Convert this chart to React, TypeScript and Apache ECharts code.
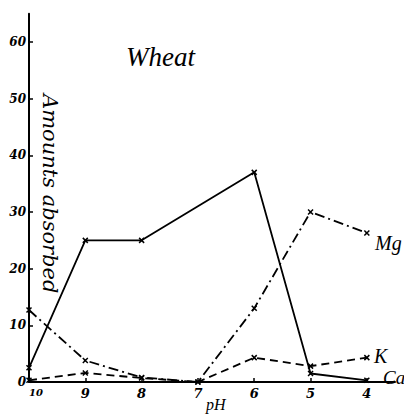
import React, { useEffect, useRef } from "react";
import * as echarts from "echarts";

const pHValues = [10, 9, 8, 7, 6, 5, 4];
const caValues: (number | null)[] = [2.5, 25, 25, null, 37, 1.5, 0.3];
const mgValues = [12.7, 3.8, 0.8, 0, 13, 30, 26.3];
const kValues = [0.3, 1.6, 0.7, 0, 4.3, 2.8, 4.3];
const xTicks = [10, 9, 8, 7, 6, 5, 4];
const yTicks = [0, 10, 20, 30, 40, 50, 60];

const FONT = "DejaVu Serif";
const HAND = "Liberation Serif";
const cross = "path://M0,0L10,10M10,0L0,10";

function pairs(vals: (number | null)[]) {
  return pHValues.map((p, i) => [p, vals[i]]);
}

function withEndLabel(vals: (number | null)[], text: string, offset: number[], size: number) {
  const d: any[] = pairs(vals);
  const last = d.length - 1;
  d[last] = {
    value: d[last],
    label: {
      show: true,
      position: "right",
      formatter: text,
      offset,
      fontFamily: HAND,
      fontStyle: "italic",
      fontSize: size,
      color: "#000",
    },
  };
  return d;
}

export default function App() {
  const ref = useRef<HTMLDivElement>(null);
  useEffect(() => {
    const chart = echarts.init(ref.current!, null, { renderer: "svg" });
    const lineBase = {
      type: "line",
      symbol: cross,
      symbolSize: 5,
      connectNulls: true,
      itemStyle: { color: "#000", borderColor: "#000", borderWidth: 1.5 },
    };
    chart.setOption({
      animation: false,
      backgroundColor: "#fff",
      grid: { left: 29, right: 9, top: 13.7, bottom: 32, containLabel: false },
      title: {
        text: "Wheat",
        left: 121,
        top: 38,
        textStyle: { fontFamily: HAND, fontStyle: "italic", fontWeight: "normal", fontSize: 27, color: "#000" },
      },
      xAxis: {
        type: "value",
        min: 3.5,
        max: 10,
        inverse: true,
        axisLine: { lineStyle: { color: "#000", width: 2 } },
        axisTick: { show: true, inside: true, length: 4, customValues: xTicks, lineStyle: { color: "#000", width: 1.5 } },
        axisLabel: {
          customValues: xTicks,
          color: "#000",
          fontFamily: FONT,
          fontStyle: "italic",
          fontWeight: "bold",
          fontSize: 13,
          margin: 5,
          formatter: (v: number) => (v === 10 ? "{s|10}" : String(v)),
          rich: {
            s: { fontSize: 10, fontFamily: FONT, fontStyle: "italic", fontWeight: "bold", color: "#000", padding: [0, 0, 0, 14] },
          },
        },
        splitLine: { show: false },
      },
      yAxis: {
        type: "value",
        min: 0,
        max: 65,
        axisLine: { show: true, lineStyle: { color: "#000", width: 2 } },
        axisTick: { show: true, inside: true, length: 4, customValues: yTicks, lineStyle: { color: "#000", width: 1.5 } },
        axisLabel: {
          customValues: yTicks,
          color: "#000",
          fontFamily: FONT,
          fontStyle: "italic",
          fontWeight: "bold",
          fontSize: 12,
          margin: 3,
        },
        splitLine: { show: false },
      },
      graphic: [
        {
          type: "text",
          x: 39,
          y: 94,
          rotation: -Math.PI / 2,
          style: {
            text: "Amounts absorbed",
            fontFamily: FONT,
            fontStyle: "italic",
            fontSize: 21,
            fill: "#000",
            textVerticalAlign: "bottom",
          },
        },
        {
          type: "text",
          x: 206,
          y: 396,
          style: { text: "pH", fontFamily: HAND, fontStyle: "italic", fontSize: 16, fill: "#000" },
        },
      ],
      series: [
        {
          ...lineBase,
          name: "Ca",
          data: withEndLabel(caValues, "Ca", [8, -3], 19),
          lineStyle: { color: "#000", width: 1.8, type: "solid" },
        },
        {
          ...lineBase,
          name: "Mg",
          data: withEndLabel(mgValues, "Mg", [0, 10], 20),
          lineStyle: { color: "#000", width: 1.8, type: [10, 4, 2, 4] },
        },
        {
          ...lineBase,
          name: "K",
          data: withEndLabel(kValues, "K", [-1, -2], 20),
          lineStyle: { color: "#000", width: 1.8, type: [8, 5] },
        },
      ],
    });
    return () => chart.dispose();
  }, []);
  return <div ref={ref} style={{ position: "fixed", left: 0, top: 0, width: 404, height: 414 }} />;
}
